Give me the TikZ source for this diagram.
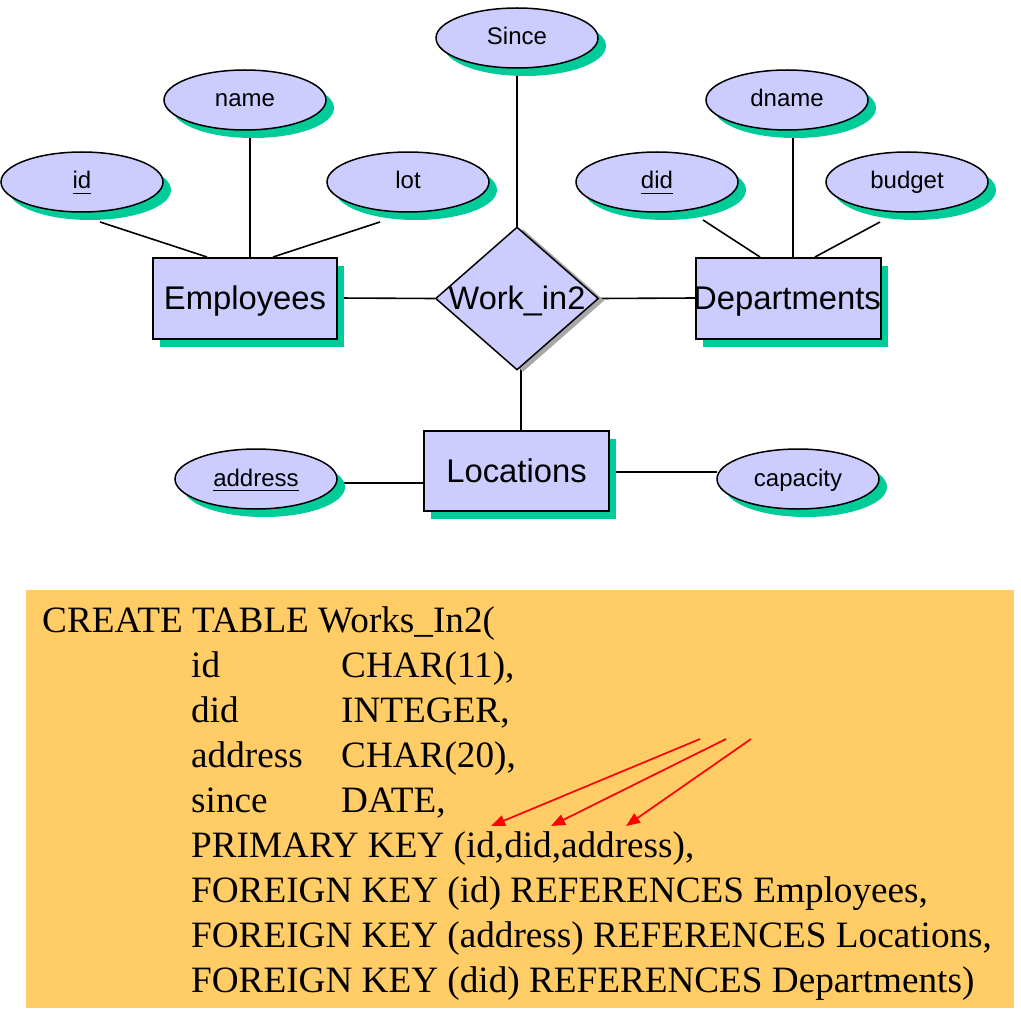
\documentclass[tikz,border=0pt]{standalone}
\usepackage{fontspec}
\setmainfont{Liberation Serif}
\newfontfamily\arialf{Liberation Sans}
\usetikzlibrary{shapes.geometric,shadows,arrows.meta,backgrounds}
\definecolor{attrfill}{HTML}{CCCCFF}
\definecolor{shgreen}{HTML}{00CC99}
\definecolor{tblfill}{HTML}{FFCC66}
\definecolor{shgrey}{HTML}{A8A8A8}
\newcommand\ulword[1]{\setbox0\hbox{#1}\hbox{\rlap{\copy0}\rule[-5pt]{\wd0}{1.3pt}}}
\tikzset{
  attr/.style={ellipse, draw=black, line width=1.5pt, fill=attrfill,
    minimum width=162pt, minimum height=60pt, inner sep=0pt,
    font=\arialf\fontsize{24}{28}\selectfont, text height=17pt, text depth=3pt,
    drop shadow={shadow xshift=8pt, shadow yshift=-8pt, fill=shgreen, opacity=1, draw=none}},
  entity/.style={rectangle, draw=black, line width=2pt, fill=attrfill,
    minimum width=184pt, minimum height=81pt, inner sep=0pt,
    font=\arialf\fontsize{32.8}{38}\selectfont, text height=28pt, text depth=6pt,
    drop shadow={shadow xshift=7pt, shadow yshift=-8pt, fill=shgreen, opacity=1, draw=none}},
  rel/.style={diamond, draw=black, line width=1.5pt, fill=attrfill,
    minimum width=163pt, minimum height=143pt, inner sep=0pt,
    font=\arialf\fontsize{32.5}{38}\selectfont, text height=28pt, text depth=6pt,
    drop shadow={shadow xshift=6pt, shadow yshift=-2pt, fill=shgrey, opacity=1, draw=none}},
  conn/.style={draw=black, line width=1.6pt},
  sqltext/.style={anchor=base west, inner sep=0pt, font=\fontsize{37.2}{40}\selectfont},
  keyarrow/.style={draw=red, line width=1.7pt, -{Triangle[length=14pt,width=11pt]}},
}
\begin{document}
\begin{tikzpicture}[x=1pt,y=-1pt]
\useasboundingbox (0,0) rectangle (1020,1024);

% attributes
\node[attr] (since) at (517,38) {Since};
\node[attr] (name) at (245,100) {name};
\node[attr] (id) at (82,182) {\ulword{id}};
\node[attr] (lot) at (408,182) {lot};
\node[attr] (dname) at (787,100) {dname};
\node[attr] (did) at (657,182) {\ulword{did}};
\node[attr] (budget) at (907,182) {budget};
\node[attr] (address) at (256,479) {\ulword{address}};
\node[attr] (capacity) at (798,479) {capacity};

% entities and relationship
\node[entity] (emp) at (245,298) {Employees};
\node[entity, minimum width=185pt] (dep) at (788.5,298) {\makebox[0pt]{\kern-3pt Departments}};
\node[entity, minimum width=185pt, minimum height=80pt] (loc) at (516.5,471) {Locations};
\node[rel] (rel) at (517,298.5) {\makebox[0pt]{Work\_in2}};

% connector end points
\coordinate (id-e) at (100,222);   \coordinate (emp-a) at (207,257);
\coordinate (name-e) at (250,130); \coordinate (emp-b) at (250,258);
\coordinate (lot-e) at (380,222);  \coordinate (emp-c) at (273,257);
\coordinate (since-e) at (517,68); \coordinate (rel-t) at (517,228);
\coordinate (did-e) at (703,220);  \coordinate (dep-a) at (760,257);
\coordinate (dname-e) at (793,130);\coordinate (dep-b) at (793,258);
\coordinate (budget-e) at (880,222);\coordinate (dep-c) at (815,257);
\coordinate (rel-b) at (521,368);  \coordinate (loc-t) at (521,431);
\coordinate (addr-e) at (337,483); \coordinate (loc-w) at (424,483);
\coordinate (loc-e) at (609,472);  \coordinate (cap-w) at (717,472);

\begin{scope}[on background layer]
  \draw[conn] (id-e) -- (emp-a);
  \draw[conn] (name-e) -- (emp-b);
  \draw[conn] (lot-e) -- (emp-c);
  \draw[conn] (since-e) -- (rel-t);
  \draw[conn] (did-e) -- (dep-a);
  \draw[conn] (dname-e) -- (dep-b);
  \draw[conn] (budget-e) -- (dep-c);
  \draw[conn] (emp.east) -- (rel.west);
  \draw[conn] (rel.east) -- (dep.west);
  \draw[conn] (rel-b) -- (loc-t);
  \draw[conn] (addr-e) -- (loc-w);
  \draw[conn] (loc-e) -- (cap-w);
\end{scope}

% SQL box
\node[fill=tblfill, draw=none, minimum width=988pt, minimum height=418pt, inner sep=0pt] (tbl) at (520,799) {};
\node[sqltext] (r1) at (42,632) {CREATE TABLE Works\_In2(};
\node[sqltext] (r2a) at (191,677) {id};
\node[sqltext] (r2b) at (341,677) {CHAR(11),};
\node[sqltext] (r3a) at (191,722) {did};
\node[sqltext] (r3b) at (341,722) {INTEGER,};
\node[sqltext] (r4a) at (191,767) {address};
\node[sqltext] (r4b) at (341,767) {CHAR(20),};
\node[sqltext] (r5a) at (191,812) {since};
\node[sqltext] (r5b) at (341,812) {DATE,};
\node[sqltext] (r6) at (191,857) {PRIMARY KEY (id,did,address),};
\node[sqltext] (r7) at (191,902) {FOREIGN KEY (id) REFERENCES Employees,};
\node[sqltext] (r8) at (191,947) {FOREIGN KEY (address) REFERENCES Locations,};
\node[sqltext] (r9) at (191,992) {FOREIGN KEY (did) REFERENCES Departments)};

% arrows
\coordinate (a1s) at (700,739); \coordinate (a1t) at (491,826);
\coordinate (a2s) at (726,739); \coordinate (a2t) at (551,826);
\coordinate (a3s) at (751,739); \coordinate (a3t) at (626,826);
\draw[keyarrow] (a1s) -- (a1t);
\draw[keyarrow] (a2s) -- (a2t);
\draw[keyarrow] (a3s) -- (a3t);
\end{tikzpicture}
\end{document}
